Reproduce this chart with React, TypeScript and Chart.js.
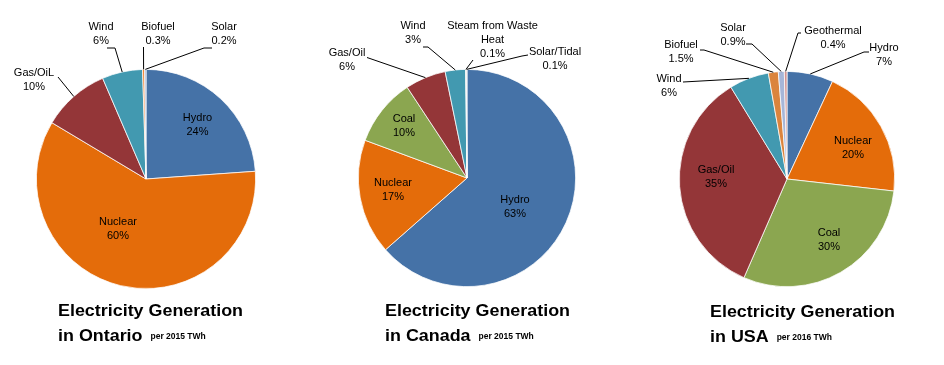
import React, { useEffect, useRef } from 'react';
import { Chart, registerables } from 'chart.js';

Chart.register(...registerables);

const PAGE_W = 944;
const PAGE_H = 365;

// ---------- data ----------
const ontarioCategories = ['Hydro', 'Nuclear', 'Gas/OiL', 'Wind', 'Biofuel', 'Solar'];
const ontarioValues = [24, 60, 10, 6, 0.3, 0.2];

const canadaCategories = ['Hydro', 'Nuclear', 'Coal', 'Gas/Oil', 'Wind', 'Steam from Waste Heat', 'Solar/Tidal'];
const canadaValues = [63, 17, 10, 6, 3, 0.1, 0.1];

const usaCategories = ['Hydro', 'Nuclear', 'Coal', 'Gas/Oil', 'Wind', 'Biofuel', 'Solar', 'Geothermal'];
const usaValues = [7, 20, 30, 35, 6, 1.5, 0.9, 0.4];

const ontarioTitle = ['Electricity Generation', 'in Ontario'];
const canadaTitle = ['Electricity Generation', 'in Canada'];
const usaTitle = ['Electricity Generation', 'in USA'];
const ontarioNote = 'per 2015 TWh';
const canadaNote = 'per 2015 TWh';
const usaNote = 'per 2016 TWh';

// ---------- styles ----------
const C_HYDRO = '#4572A7';
const C_NUCLEAR = '#E46C0A';
const C_COAL = '#8BA650';
const C_GAS = '#943638';
const C_WIND = '#4299B0';

const ontarioColors = [C_HYDRO, C_NUCLEAR, C_GAS, C_WIND, '#EE7A22', '#93A9CF'];
const canadaColors = [C_HYDRO, C_NUCLEAR, C_COAL, C_GAS, C_WIND, '#A5A5A5', '#BFBFBF'];
const usaColors = [C_HYDRO, C_NUCLEAR, C_COAL, C_GAS, C_WIND, '#DB843D', '#A6B6D8', '#D19392'];

type Pt = [number, number];
type LabelLayout = { x: number; y: number; lines?: string[]; leader?: Pt[] };

// label anchors (page coordinates, centre of first text line)
const ontarioLayout: LabelLayout[] = [
  { x: 197.5, y: 118 },
  { x: 118, y: 222 },
  { x: 34, y: 73, leader: [[58, 77]] },
  { x: 101, y: 27, leader: [[107, 48], [115, 48]] },
  { x: 158, y: 27, leader: [[143.5, 47]] },
  { x: 224, y: 27, leader: [[212, 48], [204, 48]] },
];
const canadaLayout: LabelLayout[] = [
  { x: 515, y: 200 },
  { x: 393, y: 183 },
  { x: 404, y: 119 },
  { x: 347, y: 53, leader: [[367, 57.5]] },
  { x: 413, y: 26, leader: [[423, 47], [428, 47]] },
  { x: 492.5, y: 26, lines: ['Steam from Waste', 'Heat'], leader: [[473, 60]] },
  { x: 555, y: 52, leader: [[528, 55], [522, 56]] },
];
const usaLayout: LabelLayout[] = [
  { x: 884, y: 48, leader: [[869, 52], [864, 52]] },
  { x: 853, y: 141 },
  { x: 829, y: 233 },
  { x: 716, y: 170 },
  { x: 669, y: 79, leader: [[683, 82]] },
  { x: 681, y: 45, leader: [[700, 50], [704, 50]] },
  { x: 733, y: 28, leader: [[746, 44], [752, 44]] },
  { x: 833, y: 31, leader: [[801, 33], [798, 33]] },
];

type Panel = {
  left: number;
  width: number;
  cx: number;
  cy: number;
  r: number;
  categories: string[];
  values: number[];
  colors: string[];
  layout: LabelLayout[];
  title: string[];
  note: string;
  titleX: number;
  titleY: number;
};

const PANELS: Panel[] = [
  { left: 0, width: 314, cx: 146, cy: 179, r: 110, categories: ontarioCategories, values: ontarioValues, colors: ontarioColors, layout: ontarioLayout, title: ontarioTitle, note: ontarioNote, titleX: 58, titleY: 316 },
  { left: 314, width: 316, cx: 467, cy: 178, r: 109, categories: canadaCategories, values: canadaValues, colors: canadaColors, layout: canadaLayout, title: canadaTitle, note: canadaNote, titleX: 385, titleY: 316 },
  { left: 630, width: 314, cx: 787, cy: 179, r: 108, categories: usaCategories, values: usaValues, colors: usaColors, layout: usaLayout, title: usaTitle, note: usaNote, titleX: 710, titleY: 317 },
];

const LABEL_FONT = '11px "Liberation Sans", Arial, sans-serif';
const TITLE_FONT = 'bold 17px "Liberation Sans", Arial, sans-serif';
const NOTE_FONT = 'bold 8.5px "Liberation Sans", Arial, sans-serif';
const LINE_H = 14;

function makeLabelPlugin(p: Panel) {
  return {
    id: 'pieLabels',
    afterDraw(chart: any) {
      const ctx: CanvasRenderingContext2D = chart.ctx;
      const meta = chart.getDatasetMeta(0);
      const ox = p.left;
      ctx.save();
      // leaders
      ctx.strokeStyle = '#000';
      ctx.lineWidth = 1;
      p.layout.forEach((lay, i) => {
        if (!lay.leader) return;
        const arc: any = meta.data[i];
        const mid = (arc.startAngle + arc.endAngle) / 2;
        const ex = arc.x + Math.cos(mid) * arc.outerRadius;
        const ey = arc.y + Math.sin(mid) * arc.outerRadius;
        ctx.beginPath();
        lay.leader.forEach((pt, k) => {
          if (k === 0) ctx.moveTo(pt[0] - ox, pt[1]);
          else ctx.lineTo(pt[0] - ox, pt[1]);
        });
        ctx.lineTo(ex, ey);
        ctx.stroke();
      });
      // labels
      ctx.font = LABEL_FONT;
      ctx.fillStyle = '#000';
      ctx.textAlign = 'center';
      ctx.textBaseline = 'middle';
      p.layout.forEach((lay, i) => {
        const lines = (lay.lines ? lay.lines.slice() : [p.categories[i]]);
        lines.push(p.values[i] + '%');
        lines.forEach((t, k) => ctx.fillText(t, lay.x - ox, lay.y + k * LINE_H));
      });
      // title
      ctx.textAlign = 'left';
      ctx.textBaseline = 'alphabetic';
      ctx.font = TITLE_FONT;
      const tx = p.titleX - ox;
      const w1 = ctx.measureText(p.title[0]).width;
      const sx = 185 / w1;
      ctx.save();
      ctx.translate(tx, p.titleY);
      ctx.scale(sx, 1);
      ctx.fillText(p.title[0], 0, 0);
      ctx.fillText(p.title[1], 0, 25);
      ctx.restore();
      const w2 = ctx.measureText(p.title[1]).width * sx;
      ctx.font = NOTE_FONT;
      ctx.fillText(p.note, tx + w2 + 8, p.titleY + 23);
      ctx.restore();
    },
  };
}

export default function App() {
  const refs = useRef<(HTMLCanvasElement | null)[]>([]);

  useEffect(() => {
    const charts: Chart[] = [];
    PANELS.forEach((p, idx) => {
      const canvas = refs.current[idx];
      if (!canvas) return;
      const padLeft = p.cx - p.r - p.left;
      const padRight = p.left + p.width - (p.cx + p.r);
      const padTop = p.cy - p.r;
      const padBottom = PAGE_H - (p.cy + p.r);
      const chart = new Chart(canvas, {
        type: 'pie',
        data: {
          labels: p.categories,
          datasets: [
            {
              data: p.values,
              backgroundColor: p.colors,
              borderColor: '#ffffff',
              borderWidth: 0.75,
              hoverOffset: 0,
              offset: 0,
            },
          ],
        },
        options: {
          responsive: false,
          maintainAspectRatio: false,
          animation: false,
          events: [],
          layout: { padding: { left: padLeft, right: padRight, top: padTop, bottom: padBottom } },
          plugins: {
            legend: { display: false },
            tooltip: { enabled: false },
            title: { display: false },
          },
        } as any,
        plugins: [makeLabelPlugin(p)],
      });
      charts.push(chart);
    });
    return () => charts.forEach((c) => c.destroy());
  }, []);

  return (
    <div style={{ position: 'absolute', left: 0, top: 0, width: PAGE_W, height: PAGE_H, background: '#fff' }}>
      {PANELS.map((p, i) => (
        <canvas
          key={i}
          ref={(el) => { refs.current[i] = el; }}
          width={p.width}
          height={PAGE_H}
          style={{ position: 'absolute', left: p.left, top: 0, width: p.width, height: PAGE_H }}
        />
      ))}
    </div>
  );
}
